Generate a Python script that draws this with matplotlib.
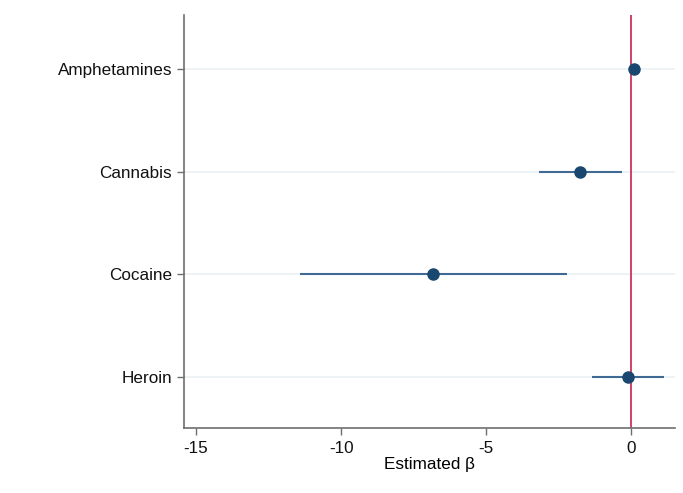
import matplotlib.pyplot as plt
import numpy as np

drugs = ["Amphetamines", "Cannabis", "Cocaine", "Heroin"]
beta = [0.10, -1.78, -6.82, -0.13]
ci_low = [0.05, -3.17, -11.43, -1.35]
ci_high = [0.15, -0.34, -2.21, 1.12]

plt.rcParams["font.family"] = ["Liberation Sans", "DejaVu Sans"]

fig = plt.figure(figsize=(6.83, 4.93), dpi=100)
ax = fig.add_axes([0.2694, 0.1318, 0.7189, 0.8378])

ypos = np.arange(1, len(drugs) + 1)
for y in ypos:
    ax.axhline(y, color="#eaf0f3", lw=1.2, zorder=0)

ax.axvline(0, color="#c8234f", lw=1.2, zorder=1)
ax.hlines(ypos, ci_low, ci_high, color="#3e6a93", lw=1.5, zorder=2)
ax.plot(beta, ypos, "o", color="#1a476f", ms=8, zorder=3)

ax.set_xlim(-15.41, 1.5)
ax.set_ylim(4.5, 0.47)
ax.set_yticks(ypos)
ax.set_yticklabels(drugs)
ax.set_xticks([-15, -10, -5, 0])
ax.set_xticklabels(["-15", "-10", "-5", "0"])
ax.set_xlabel("Estimated β", fontsize=12.3, labelpad=1)

for s in ["top", "right"]:
    ax.spines[s].set_visible(False)
for s in ["left", "bottom"]:
    ax.spines[s].set_color("#6e6e6e")
    ax.spines[s].set_linewidth(1.2)
ax.tick_params(axis="both", colors="#6e6e6e", labelcolor="#111111",
               labelsize=12.3, length=5, width=1)
ax.tick_params(axis="x", pad=4)

fig.savefig("out.png", dpi=100)
